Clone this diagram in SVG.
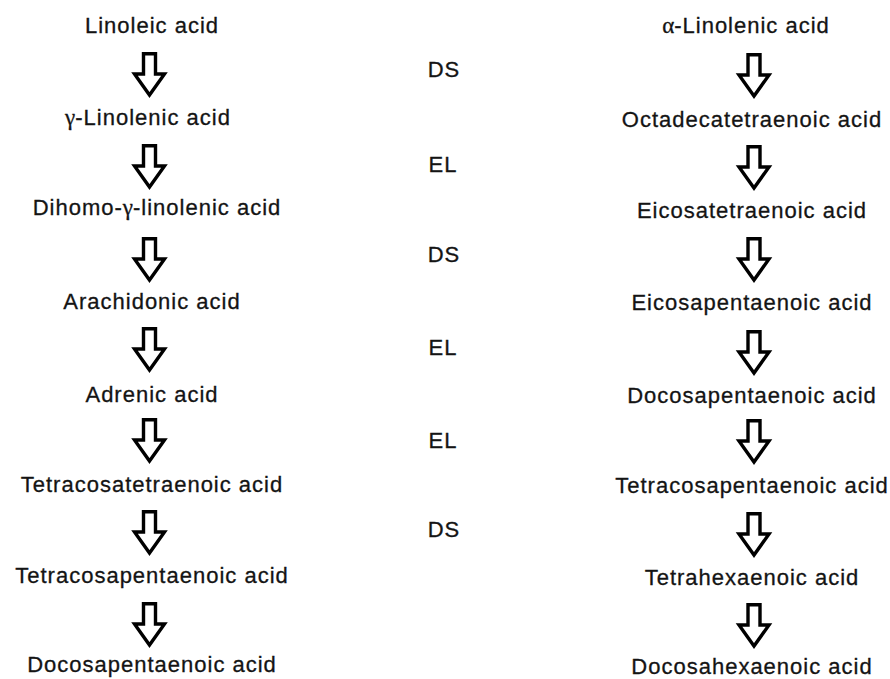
<svg xmlns="http://www.w3.org/2000/svg" xmlns:xlink="http://www.w3.org/1999/xlink" width="890" height="679" viewBox="0 0 890 679">
<defs>
<style>
text{font-family:"Liberation Sans",Arial,Helvetica,sans-serif;font-size:22px;fill:#141414;stroke:#141414;stroke-width:0.3px;letter-spacing:1px;text-anchor:middle}
.gr{font-family:"Liberation Serif","Times New Roman",serif;font-size:23px;letter-spacing:0}
.arr{fill:#fff;stroke:#000;stroke-width:3.4;stroke-linejoin:miter}
</style>
<path id="ar" class="arr" d="M-6,1.7 H6 V22 H15 L0,43 L-15,22 H-6 Z"/>
</defs>
<rect width="890" height="679" fill="#fff"/>
<g id="connectors">
<use xlink:href="#ar" x="149.5" y="52"/>
<use xlink:href="#ar" x="149.5" y="144"/>
<use xlink:href="#ar" x="149.5" y="237"/>
<use xlink:href="#ar" x="149.5" y="327"/>
<use xlink:href="#ar" x="149.5" y="418"/>
<use xlink:href="#ar" x="149.5" y="510"/>
<use xlink:href="#ar" x="149.5" y="602"/>
<use xlink:href="#ar" x="754" y="53"/>
<use xlink:href="#ar" x="754" y="145"/>
<use xlink:href="#ar" x="754" y="237"/>
<use xlink:href="#ar" x="754" y="330"/>
<use xlink:href="#ar" x="754" y="419"/>
<use xlink:href="#ar" x="754" y="512"/>
<use xlink:href="#ar" x="754" y="603"/>
</g>
<g id="labels">
<text x="444" y="77">DS</text>
<text x="443" y="172">EL</text>
<text x="444" y="262">DS</text>
<text x="443" y="355">EL</text>
<text x="443" y="448">EL</text>
<text x="444" y="537">DS</text>
</g>
<g id="n-linoleic"><text x="152" y="33">Linoleic acid</text></g>
<g id="n-gla"><text x="148" y="125"><tspan class="gr">γ</tspan>-Linolenic acid</text></g>
<g id="n-dgla"><text x="157" y="215">Dihomo-<tspan class="gr">γ</tspan>-linolenic acid</text></g>
<g id="n-arachidonic"><text x="152" y="309">Arachidonic acid</text></g>
<g id="n-adrenic"><text x="152" y="402">Adrenic acid</text></g>
<g id="n-tetracosatetraenoic"><text x="152" y="492">Tetracosatetraenoic acid</text></g>
<g id="n-tetracosapentaenoic-l"><text x="152" y="583">Tetracosapentaenoic acid</text></g>
<g id="n-docosapentaenoic-l"><text x="152" y="672">Docosapentaenoic acid</text></g>
<g id="n-ala"><text x="746" y="33"><tspan class="gr">α</tspan>-Linolenic acid</text></g>
<g id="n-octadecatetraenoic"><text x="752" y="127">Octadecatetraenoic acid</text></g>
<g id="n-eicosatetraenoic"><text x="752" y="218">Eicosatetraenoic acid</text></g>
<g id="n-eicosapentaenoic"><text x="752" y="310">Eicosapentaenoic acid</text></g>
<g id="n-docosapentaenoic-r"><text x="752" y="403">Docosapentaenoic acid</text></g>
<g id="n-tetracosapentaenoic-r"><text x="752" y="493">Tetracosapentaenoic acid</text></g>
<g id="n-tetrahexaenoic"><text x="752" y="585">Tetrahexaenoic acid</text></g>
<g id="n-docosahexaenoic"><text x="752" y="674">Docosahexaenoic acid</text></g>
</svg>
